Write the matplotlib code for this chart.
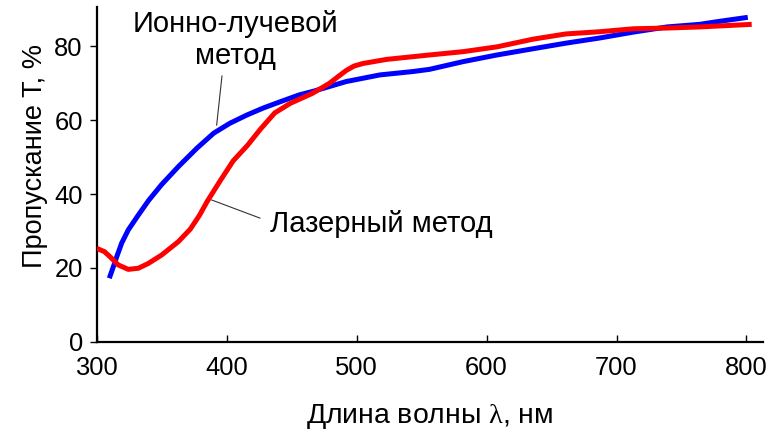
import matplotlib
matplotlib.use("Agg")
import matplotlib.pyplot as plt

plt.rcParams['font.family'] = ['Liberation Sans', 'DejaVu Sans']
plt.rcParams['mathtext.fontset'] = 'custom'
plt.rcParams['mathtext.rm'] = 'Liberation Serif'
plt.rcParams['mathtext.it'] = 'Liberation Serif:italic'

# Ion-beam method (blue)
ion_wl = [309.7, 312.8, 315.4, 319.2, 324.3, 332, 340, 350, 363, 377, 390, 402.5, 415.4,
          428, 441, 456, 467, 492, 518, 543, 556, 582, 608, 636, 661, 687, 713, 739,
          764, 777, 801]
ion_T = [17.2, 20.3, 23.0, 26.7, 30.3, 34.3, 38.3, 42.6, 47.5, 52.4, 56.5, 59.2, 61.4,
         63.3, 65.0, 66.9, 67.9, 70.5, 72.3, 73.2, 73.8, 75.9, 77.7, 79.4, 80.9, 82.3, 83.9, 85.3,
         86.0, 86.7, 87.9]

# Laser method (red)
laser_wl = [300, 306, 311.5, 316.6, 324.3, 332, 339.7, 350, 362.8, 372, 379, 385, 395, 405,
            416, 426, 437, 449, 466, 479, 486, 492, 498, 505, 523, 556, 582, 608, 636, 661, 687,
            713, 739, 764, 804]
laser_T = [25.3, 24.4, 22.6, 20.8, 19.6, 19.9, 21.2, 23.5, 27.1, 30.5, 34.2, 38.0, 43.6, 49.0,
           53.2, 57.6, 62.0, 64.6, 67.3, 70.0, 71.9, 73.5, 74.7, 75.4, 76.5, 77.7, 78.6, 79.9, 82.0,
           83.4, 84.0, 84.8, 85.0, 85.3, 86.0]

x_ticks = [300, 400, 500, 600, 700, 800]
y_ticks = [0, 20, 40, 60, 80]

fig = plt.figure(figsize=(7.8, 4.34), dpi=100)
ax = fig.add_axes([96.7/780, 1-341.7/434, (763-96.7)/780, (341.7-7)/434])

ax.plot(ion_wl, ion_T, color='#0000ff', lw=3.6, solid_capstyle='butt',
        solid_joinstyle='round', zorder=3)
ax.plot(laser_wl, laser_T, color='#ff0000', lw=3.6, solid_capstyle='butt',
        solid_joinstyle='round', zorder=4)

ax.set_xlim(300, 812.7)
ax.set_ylim(0, 90.7)
ax.set_xticks(x_ticks)
ax.set_yticks(y_ticks)
for s in ['top', 'right']:
    ax.spines[s].set_visible(False)
for s in ['left', 'bottom']:
    ax.spines[s].set_linewidth(1.6)
ax.tick_params(axis='x', direction='in', length=5, width=1, labelsize=18.4, pad=10)
ax.tick_params(axis='y', direction='out', length=5, width=1, labelsize=18.4, pad=5)

# annotations
ax.text(407, 83.9, 'Ионно-лучевой', fontsize=21, ha='center', va='baseline')
ax.text(407, 75.2, 'метод', fontsize=21, ha='center', va='baseline')
ax.plot([396.4, 392.3], [72.0, 58.7], color='#333333', lw=0.8, zorder=5)
ax.text(433, 29.8, 'Лазерный метод', fontsize=21, ha='left', va='baseline')
ax.plot([388.5, 425.6], [38.4, 33.5], color='#333333', lw=0.8, zorder=5)

fig.text(430/780, 1-423.3/434, r'Длина волны $\mathrm{\lambda}$, нм', fontsize=20.4,
         ha='center', va='baseline')
fig.text(41.7/780, 1-156.5/434, 'Пропускание T, %', fontsize=19.5, rotation=90,
         rotation_mode='anchor', ha='center', va='baseline')

fig.savefig('out.png', dpi=100, facecolor='white')
